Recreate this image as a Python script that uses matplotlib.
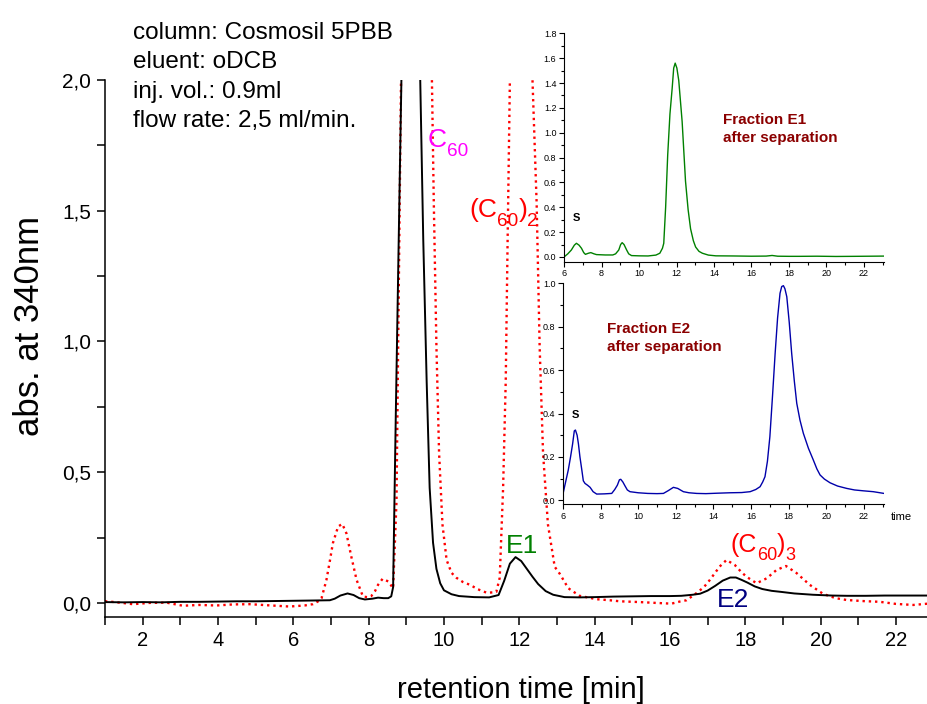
import numpy as np
import matplotlib
matplotlib.use("Agg")
import matplotlib.pyplot as plt
from matplotlib.ticker import MultipleLocator, FixedLocator, FixedFormatter, FormatStrFormatter
from matplotlib.transforms import offset_copy

plt.rcParams['font.family'] = ['Liberation Sans', 'DejaVu Sans']


# main chromatogram, fraction E1/E2 (black)
black_t = [1.0, 1.5, 2.0, 2.5, 3.0, 3.5, 4.0, 4.5, 5.0, 5.5, 6.0, 6.5, 6.97, 7.1, 7.25, 7.44,
           7.6, 7.75, 7.9, 8.1, 8.25, 8.4, 8.52, 8.6, 8.65, 8.72, 8.8, 8.87, 9.1, 9.37, 9.45,
           9.54, 9.62, 9.71, 9.8, 9.9, 10.0, 10.2, 10.4, 10.8, 11.2, 11.45, 11.6, 11.75, 11.9,
           12.05, 12.2, 12.35, 12.5, 12.7, 12.9, 13.2, 13.6, 14.0, 14.5, 15.0, 15.5, 16.0, 16.3,
           16.6, 16.8, 17.0, 17.2, 17.4, 17.6, 17.75, 17.9, 18.05, 18.25, 18.45, 18.7, 18.95,
           19.3, 19.8, 20.3, 20.7, 21.2, 21.7, 22.2, 22.85]
black_abs = [0.003, 0.002, 0.003, 0.002, 0.004, 0.004, 0.005, 0.006, 0.006, 0.007, 0.008, 0.009,
             0.010, 0.016, 0.028, 0.036, 0.030, 0.018, 0.013, 0.016, 0.020, 0.018, 0.018, 0.025,
             0.06, 0.71, 1.4, 2.0, 3.5, 2.0, 1.39, 0.85, 0.44, 0.23, 0.13, 0.075, 0.048, 0.033,
             0.026, 0.022, 0.021, 0.03, 0.085, 0.15, 0.175, 0.16, 0.13, 0.10, 0.072, 0.045, 0.031,
             0.022, 0.021, 0.022, 0.024, 0.025, 0.026, 0.026, 0.027, 0.031, 0.035, 0.047, 0.065,
             0.085, 0.097, 0.097, 0.088, 0.078, 0.063, 0.053, 0.046, 0.042, 0.036, 0.031, 0.028,
             0.027, 0.027, 0.028, 0.028, 0.028]

# crude extract (red dotted)
red_t = [1.0, 1.12, 1.45, 1.74, 2.2, 2.63, 3.07, 3.5, 3.96, 4.4, 4.84, 5.3, 5.9, 6.3, 6.52, 6.65,
         6.75, 6.88, 6.97, 7.05, 7.19, 7.3, 7.41, 7.54, 7.68, 7.85, 7.96, 8.07, 8.17, 8.25, 8.37,
         8.52, 8.65, 8.74, 8.8, 8.86, 9.2, 9.68, 9.73, 9.8, 9.87, 9.96, 10.07, 10.2, 10.33, 10.5,
         10.69, 10.9, 11.13, 11.3, 11.39, 11.48, 11.57, 11.64, 11.69, 11.75, 12.05, 12.35, 12.46,
         12.54, 12.63, 12.76, 12.94, 13.08, 13.3, 13.6, 14.05, 14.4, 14.67, 15.2, 15.6, 16.04,
         16.26, 16.44, 16.7, 16.9, 17.06, 17.32, 17.5, 17.72, 17.88, 18.03, 18.3, 18.57, 18.83,
         19.08, 19.36, 19.71, 20.07, 20.4, 20.69, 21.1, 21.57, 22.0, 22.46, 22.85]
red_abs = [0.006, 0.005, 0.0, -0.005, 0.0, 0.001, -0.011, -0.008, -0.010, -0.006, -0.005, -0.009,
           -0.014, -0.010, -0.005, 0.005, 0.018, 0.088, 0.16, 0.228, 0.292, 0.302, 0.266, 0.177,
           0.088, 0.024, 0.022, 0.026, 0.045, 0.069, 0.092, 0.082, 0.056, 0.39, 1.2, 2.0, 3.0,
           2.0, 1.53, 0.98, 0.574, 0.30, 0.164, 0.115, 0.096, 0.08, 0.069, 0.052, 0.039, 0.040,
           0.042, 0.096, 0.44, 0.85, 1.39, 2.0, 3.0, 2.0, 1.53, 0.98, 0.574, 0.30, 0.138, 0.11,
           0.056, 0.027, 0.014, 0.010, 0.006, 0.003, 0.0, -0.003, 0.005, 0.010, 0.037, 0.06,
           0.088, 0.139, 0.164, 0.145, 0.12, 0.10, 0.075, 0.094, 0.126, 0.141, 0.114, 0.069,
           0.034, 0.018, 0.011, 0.007, 0.004, -0.004, -0.008, -0.003]

# inset: fraction E1 after separation
e1_t = [6.0, 6.2, 6.39, 6.55, 6.66, 6.8, 6.93, 7.05, 7.14, 7.3, 7.43, 7.6, 7.73, 8.2, 8.6, 8.75,
        8.92, 9.02, 9.1, 9.2, 9.34, 9.45, 9.6, 10.0, 10.48, 10.9, 11.11, 11.25, 11.32, 11.42,
        11.53, 11.65, 11.77, 11.85, 11.93, 12.02, 12.12, 12.3, 12.48, 12.62, 12.75, 12.9, 13.02,
        13.2, 13.38, 13.7, 14.1, 15.0, 16.0, 16.78, 17.1, 17.4, 18.0, 18.57, 19.5, 20.5, 21.5,
        22.3, 23.07]
e1_abs = [0.0, 0.025, 0.056, 0.095, 0.11, 0.095, 0.07, 0.035, 0.021, 0.03, 0.035, 0.025, 0.019,
          0.016, 0.016, 0.025, 0.056, 0.1, 0.115, 0.1, 0.056, 0.025, 0.011, 0.009, 0.008, 0.015,
          0.03, 0.07, 0.11, 0.4, 0.82, 1.15, 1.36, 1.52, 1.56, 1.52, 1.42, 1.09, 0.61, 0.38,
          0.227, 0.13, 0.08, 0.045, 0.03, 0.015, 0.009, 0.008, 0.006, 0.007, 0.012, 0.006, 0.005,
          0.005, 0.006, 0.004, 0.005, 0.006, 0.007]

# inset: fraction E2 after separation
e2_t = [6.0, 6.1, 6.28, 6.4, 6.51, 6.6, 6.66, 6.75, 6.82, 6.9, 7.0, 7.08, 7.17, 7.3, 7.44, 7.6,
        7.79, 8.2, 8.59, 8.75, 8.89, 9.0, 9.07, 9.18, 9.3, 9.42, 9.56, 10.0, 10.5, 11.0, 11.34,
        11.6, 11.87, 12.1, 12.4, 12.7, 13.11, 13.6, 14.2, 14.88, 15.5, 15.95, 16.25, 16.48,
        16.62, 16.74, 16.87, 17.0, 17.14, 17.28, 17.41, 17.54, 17.63, 17.72, 17.8, 17.9, 18.03,
        18.16, 18.3, 18.43, 18.6, 18.78, 19.05, 19.31, 19.5, 19.67, 19.9, 20.2, 20.6, 21.09,
        21.5, 21.97, 22.5, 23.07]
e2_abs = [0.03, 0.07, 0.14, 0.2, 0.26, 0.32, 0.324, 0.3, 0.26, 0.2, 0.14, 0.09, 0.078, 0.07,
          0.06, 0.04, 0.029, 0.03, 0.032, 0.05, 0.07, 0.095, 0.097, 0.085, 0.066, 0.048, 0.04,
          0.035, 0.032, 0.031, 0.032, 0.045, 0.06, 0.055, 0.04, 0.035, 0.032, 0.031, 0.033,
          0.035, 0.036, 0.04, 0.05, 0.063, 0.085, 0.109, 0.18, 0.293, 0.48, 0.677, 0.84, 0.954,
          0.985, 0.989, 0.975, 0.938, 0.82, 0.677, 0.55, 0.447, 0.37, 0.309, 0.24, 0.186, 0.145,
          0.117, 0.098, 0.081, 0.066, 0.055, 0.048, 0.044, 0.04, 0.032]

main_yticks = [0.0, 0.5, 1.0, 1.5, 2.0]
main_ylabels = ['0,0', '0,5', '1,0', '1,5', '2,0']
main_xticks = [2, 4, 6, 8, 10, 12, 14, 16, 18, 20, 22]

info_lines = ['column: Cosmosil 5PBB', 'eluent: oDCB', 'inj. vol.: 0.9ml', 'flow rate: 2,5 ml/min.']


fig = plt.figure(figsize=(9.28, 7.04), dpi=100)
renderer = fig.canvas.get_renderer()


def chem_label(a, x, y, parts, color, size):
    # pieces of (text, subscript?) laid out one after the other
    dx = 0
    for s, sub in parts:
        fs = size * 0.72 if sub else size
        dy = -size * 0.33 if sub else 0
        tr = offset_copy(a.transData, fig=fig, x=dx, y=dy, units='points')
        t = a.text(x, y, s, color=color, fontsize=fs, transform=tr)
        dx += t.get_window_extent(renderer).width * 72 / fig.dpi


ax = fig.add_axes([0.1131, 0.1236, 0.8869, 0.7628])
ax.plot(red_t, red_abs, color='red', linestyle=':', linewidth=1.7)
ax.plot(black_t, black_abs, color='black', linewidth=1.4)
ax.set_xlim(1, 22.85)
ax.set_ylim(-0.054, 2.0)
ax.xaxis.set_major_locator(FixedLocator(main_xticks))
ax.xaxis.set_minor_locator(MultipleLocator(1))
ax.yaxis.set_major_locator(FixedLocator(main_yticks))
ax.yaxis.set_major_formatter(FixedFormatter(main_ylabels))
ax.yaxis.set_minor_locator(MultipleLocator(0.25))
ax.spines['top'].set_visible(False)
ax.spines['right'].set_visible(False)
ax.spines['left'].set_linewidth(1.1)
ax.spines['bottom'].set_linewidth(1.1)
ax.tick_params(which='both', direction='out', length=6, width=1.1, pad=4)
ax.tick_params(axis='y', labelsize=15)
ax.tick_params(axis='x', labelsize=14.5)

fig.text(30 / 928, 1 - 326 / 704, 'abs. at 340nm', rotation=90, ha='center', va='center', fontsize=25)
fig.text(521 / 928, 1 - 690 / 704, 'retention time [min]', ha='center', va='center', fontsize=21)

for i, line in enumerate(info_lines):
    fig.text(133 / 928, 1 - (33 + i * 29.5) / 704, line, ha='left', va='center', fontsize=17.5)

chem_label(ax, 9.57, 1.742, [('C', False), ('60', True)], 'magenta', 19)
chem_label(ax, 10.67, 1.476, [('(C', False), ('60', True), (')', False), ('2', True)], 'red', 19)
chem_label(ax, 17.61, 0.196, [('(C', False), ('60', True), (')', False), ('3', True)], 'red', 18)
ax.text(11.64, 0.191, 'E1', color='green', fontsize=19)
ax.text(17.25, -0.016, 'E2', color='navy', fontsize=19)

# inset 1
ax1 = fig.add_axes([0.6078, 0.6283, 0.3448, 0.3244], facecolor='none')
ax1.plot(e1_t, e1_abs, color='green', linewidth=1.0)
ax1.set_xlim(6, 23.07)
ax1.set_ylim(-0.038, 1.8)
ax1.text(6.64, 0.29, 'S', fontsize=8, fontweight='bold', ha='center')
ax1.text(14.46, 1.16, 'Fraction E1\nafter separation', color='#8b0000', fontsize=11,
         fontweight='bold', va='top', linespacing=1.35)

# inset 2
ax2 = fig.add_axes([0.6067, 0.2837, 0.3459, 0.3139], facecolor='none')
ax2.plot(e2_t, e2_abs, color='#0000aa', linewidth=1.0)
ax2.set_xlim(6, 23.07)
ax2.set_ylim(-0.018, 1.0)
ax2.text(6.64, 0.38, 'S', fontsize=8, fontweight='bold', ha='center')
ax2.text(8.36, 0.823, 'Fraction E2\nafter separation', color='#8b0000', fontsize=11,
         fontweight='bold', va='top', linespacing=1.35)
fig.text(891 / 928, 1 - 517 / 704, 'time', fontsize=8, ha='left', va='center')

for a in [ax1, ax2]:
    a.spines['top'].set_visible(False)
    a.spines['right'].set_visible(False)
    a.spines['left'].set_linewidth(0.8)
    a.spines['bottom'].set_linewidth(0.8)
    a.xaxis.set_major_locator(MultipleLocator(2))
    a.xaxis.set_minor_locator(MultipleLocator(1))
    a.yaxis.set_major_locator(MultipleLocator(0.2))
    a.yaxis.set_minor_locator(MultipleLocator(0.1))
    a.yaxis.set_major_formatter(FormatStrFormatter('%.1f'))
    a.tick_params(which='major', direction='out', length=3.5, width=0.8, labelsize=6.5, pad=2)
    a.tick_params(which='minor', direction='out', length=2, width=0.8)

fig.savefig('out.png', dpi=100)
